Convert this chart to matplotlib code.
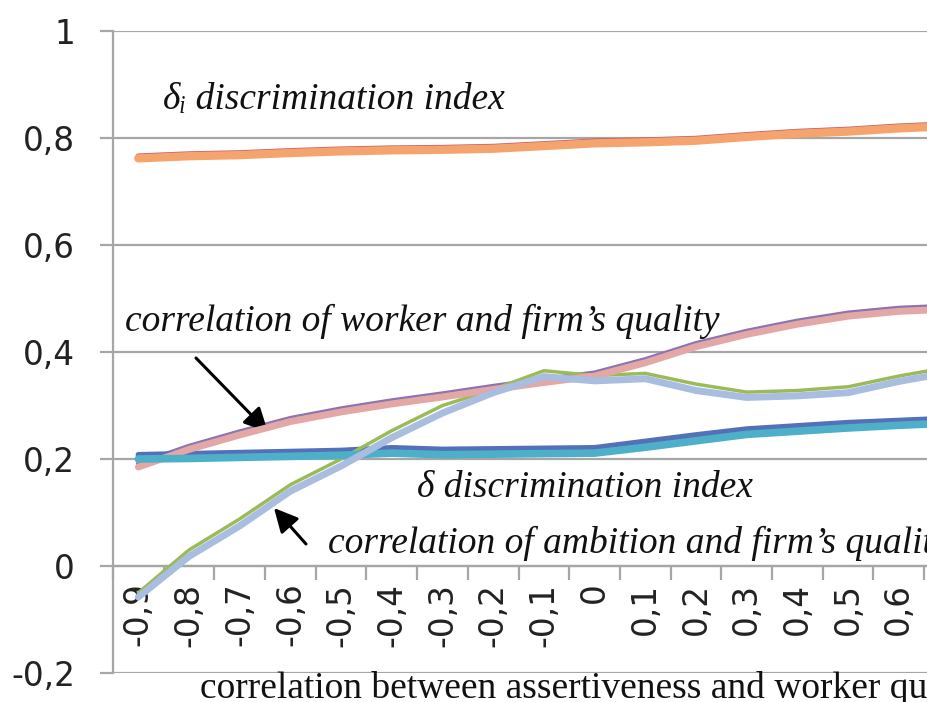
import matplotlib.pyplot as plt
import numpy as np

# categories on the x axis (last one falls outside the cropped frame)
cats = [-0.9, -0.8, -0.7, -0.6, -0.5, -0.4, -0.3, -0.2, -0.1, 0.0, 0.1, 0.2, 0.3, 0.4, 0.5, 0.6, 0.7]
cat_labels = ["-0,9", "-0,8", "-0,7", "-0,6", "-0,5", "-0,4", "-0,3", "-0,2", "-0,1", "0",
              "0,1", "0,2", "0,3", "0,4", "0,5", "0,6", "0,7"]

# delta_i discrimination index (two runs)
di_a = [0.766, 0.770, 0.772, 0.776, 0.779, 0.781, 0.782, 0.784, 0.789, 0.794, 0.796, 0.799, 0.806, 0.812, 0.816, 0.822, 0.826]
di_b = [0.762, 0.766, 0.768, 0.772, 0.775, 0.777, 0.778, 0.780, 0.785, 0.790, 0.792, 0.795, 0.802, 0.808, 0.812, 0.818, 0.822]

# correlation of worker and firm's quality
wf_a = [0.191, 0.224, 0.251, 0.276, 0.294, 0.309, 0.322, 0.336, 0.349, 0.361, 0.386, 0.416, 0.439, 0.458, 0.473, 0.482, 0.486]
wf_b = [0.185, 0.218, 0.245, 0.270, 0.288, 0.303, 0.316, 0.330, 0.343, 0.355, 0.380, 0.410, 0.433, 0.452, 0.467, 0.476, 0.480]

# correlation of ambition and firm's quality
af_a = [-0.050, 0.030, 0.088, 0.152, 0.200, 0.253, 0.300, 0.330, 0.365, 0.356, 0.360, 0.340, 0.325, 0.328, 0.335, 0.355, 0.372]
af_b = [-0.058, 0.018, 0.075, 0.140, 0.187, 0.240, 0.286, 0.324, 0.354, 0.346, 0.350, 0.328, 0.315, 0.318, 0.324, 0.345, 0.362]

# delta discrimination index
d_a = [0.208, 0.210, 0.212, 0.214, 0.216, 0.221, 0.218, 0.219, 0.220, 0.221, 0.233, 0.245, 0.256, 0.262, 0.268, 0.272, 0.276]
d_b = [0.200, 0.201, 0.203, 0.205, 0.207, 0.211, 0.208, 0.209, 0.210, 0.211, 0.222, 0.234, 0.246, 0.252, 0.258, 0.263, 0.267]

W, H = 928, 702
fig = plt.figure(figsize=(W / 100, H / 100), dpi=100)

x0, x1 = 113, W          # plot area left / right in pixels
ytop, ybot = 31, 673     # y=1 and y=-0.2 in pixels
ax = fig.add_axes([x0 / W, 1 - ybot / H, (x1 - x0) / W, (ybot - ytop) / H])

def px(x, y):
    return (x / W, 1 - y / H)

xs = np.arange(len(cats))
grid_col = "#A6A6A6"

# pairs: thinner/darker run under, thicker/lighter run over
ax.plot(xs, di_a, color="#C0606A", lw=4.0, solid_capstyle="round", zorder=3)
ax.plot(xs, di_b, color="#F5A46E", lw=6.0, solid_capstyle="round", zorder=4)

ax.plot(xs, wf_a, color="#8A74B2", lw=3.5, solid_capstyle="round", zorder=3)
ax.plot(xs, wf_b, color="#E3A8A6", lw=5.0, solid_capstyle="round", zorder=4)

ax.plot(xs, d_a, color="#5470B8", lw=4.0, solid_capstyle="round", zorder=3)
ax.plot(xs, d_b, color="#4EAFC8", lw=5.5, solid_capstyle="round", zorder=4)

ax.plot(xs, af_a, color="#9BBB59", lw=2.5, solid_capstyle="round", zorder=3)
ax.plot(xs, af_b, color="#A9BDE0", lw=5.0, solid_capstyle="round", zorder=4)

# y axis
yt = [-0.2, 0, 0.2, 0.4, 0.6, 0.8, 1.0]
ax.set_yticks(yt)
ax.set_yticklabels(["-0,2", "0", "0,2", "0,4", "0,6", "0,8", "1"],
                   fontsize=23.5, family="DejaVu Sans", color="#222222")
ax.tick_params(axis="y", length=9.5, width=1.6, color=grid_col, pad=18)
ax.yaxis.grid(True, color=grid_col, lw=1.6, zorder=0)
ax.set_axisbelow(True)

# x axis crossing at zero, ticks between categories
ax.spines["bottom"].set_position(("data", 0))
ax.spines["bottom"].set_color(grid_col)
ax.spines["bottom"].set_linewidth(1.6)
ax.spines["left"].set_color(grid_col)
ax.spines["left"].set_linewidth(1.6)
ax.spines["top"].set_visible(False)
ax.spines["right"].set_visible(False)

ax.set_xticks(xs - 0.5)
ax.set_xticklabels([])
ax.tick_params(axis="x", which="major", length=10, width=1.6, color=grid_col, direction="out")
ax.set_xticks(xs, minor=True)
ax.set_xticklabels(cat_labels, minor=True, rotation=90, va="top", ha="center",
                   fontsize=23.5, family="DejaVu Sans", color="#222222")
ax.tick_params(axis="x", which="minor", length=0, pad=12)

# limits after ticks so the tick lists do not widen the view
ax.set_xlim(-0.5, (x1 - x0) / 50.7 - 0.5)
ax.set_ylim(-0.2, 1.0)

# series labels
lab = dict(family=["Liberation Serif", "DejaVu Serif"], style="italic", fontsize=27, color="#111111")
fig.text(*px(163, 100), "δᵢ discrimination index", va="center", ha="left", **lab)
fig.text(*px(125, 321), "correlation of worker and firm’s quality", va="center", ha="left", **lab)
fig.text(*px(417, 488), "δ discrimination index", va="center", ha="left", **lab)
fig.text(*px(328, 543), "correlation of ambition and firm’s quality", va="center", ha="left", **lab)

arrow = dict(arrowstyle="-|>", color="black", lw=2.2, mutation_scale=36, shrinkA=0, shrinkB=0)
ax.annotate("", xy=px(268, 432), xytext=px(196, 358), xycoords="figure fraction",
            textcoords="figure fraction", arrowprops=arrow)
ax.annotate("", xy=px(274, 508), xytext=px(306, 544), xycoords="figure fraction",
            textcoords="figure fraction", arrowprops=arrow)

# axis title (cropped at the right edge like the source)
fig.text(*px(200, 688), "correlation between assertiveness and worker quality", va="center", ha="left",
         family="Liberation Serif", fontsize=27, color="#111111")

fig.savefig("out.png", dpi=100)
